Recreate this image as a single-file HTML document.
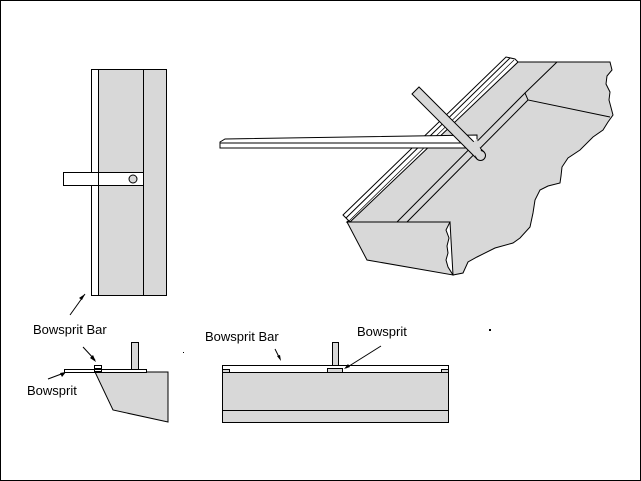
<!DOCTYPE html>
<html><head><style>
body{margin:0;background:#fff}
svg{display:block}
text{font-family:"Liberation Sans",sans-serif;font-size:13px;fill:#000}
</style></head><body>
<svg width="641" height="481" viewBox="0 0 641 481">
<rect x="0.5" y="0.5" width="640" height="480" fill="#fff" stroke="#000"/>
<rect x="91.5" y="69.5" width="75" height="226" fill="#d8d8d8" stroke="#000"/>
<rect x="91.5" y="69.5" width="7" height="226" fill="#fff" stroke="#000"/>
<line x1="143.5" y1="69" x2="143.5" y2="295" stroke="#000"/>
<rect x="63.5" y="172.5" width="80" height="13" fill="#fff" stroke="#000"/>
<line x1="98.5" y1="172" x2="98.5" y2="186" stroke="#000"/>
<circle cx="133" cy="179" r="4" fill="#d8d8d8" stroke="#000"/>
<polygon points="518,62 610,62 612,70 607,76 606,84 610,92 609,100 613,115 608,122 603,130 593,137 580,150 568,158 562,167 561,176 560,183 548,186 540,190 535,200 533,213 530,227 520,238 513,243 495,248 477,257 468,262 463,273 453,275 450,222 347,222" fill="#d8d8d8" stroke="#000"/>
<polygon points="347,222 450,222 446,230 449,238 447,246 448,253 446,260 448,267 453,275 367,260" fill="#d8d8d8" stroke="#000"/>
<polyline points="557,62 525,93 528,100 610,117" fill="none" stroke="#000"/>
<line x1="397" y1="222" x2="525" y2="93" stroke="#000"/>
<line x1="407" y1="222" x2="528" y2="100" stroke="#000"/>
<polygon points="343,215 506,57 515,59 518,62 350,222" fill="#fff" stroke="#000"/>
<line x1="346" y1="218" x2="510" y2="58" stroke="#000"/>
<line x1="349" y1="221" x2="514" y2="60" stroke="#000" stroke-width="0.7"/>
<polygon points="220,142 225,139 477,135 477,140 467,148 220,148" fill="#fff" stroke="#000"/>
<line x1="220" y1="143" x2="470" y2="143" stroke="#000"/>
<polygon points="412,94 419,87 484,152 477,159" fill="#d8d8d8" stroke="#000"/>
<circle cx="480.5" cy="155.5" r="5" fill="#d8d8d8" stroke="#000"/>
<polygon points="470,145 477,139 481,151 476,157" fill="#d8d8d8"/>
<polygon points="95,372 168,372 168,422 113,410" fill="#d8d8d8" stroke="#000"/>
<rect x="131.5" y="342.5" width="7" height="27" fill="#d8d8d8" stroke="#000"/>
<rect x="64.5" y="369.5" width="82" height="3" fill="#fff" stroke="#000"/>
<rect x="94.5" y="365.5" width="7" height="6" fill="#fff" stroke="#000"/>
<line x1="94" y1="369" x2="102" y2="369" stroke="#000" stroke-width="2"/>
<rect x="222.5" y="365.5" width="226" height="57" fill="#d8d8d8" stroke="#000"/>
<rect x="222.5" y="365.5" width="226" height="7" fill="#fff" stroke="#000"/>
<line x1="222" y1="410.5" x2="448" y2="410.5" stroke="#000"/>
<rect x="332.5" y="342.5" width="6" height="23" fill="#d8d8d8" stroke="#000"/>
<rect x="327.5" y="368.5" width="15" height="4" fill="#d8d8d8" stroke="#000"/>
<rect x="222.5" y="369.5" width="7" height="3" fill="#d8d8d8" stroke="#000"/>
<rect x="441.5" y="369.5" width="7" height="3" fill="#d8d8d8" stroke="#000"/>
<text x="33" y="334">Bowsprit Bar</text>
<text x="27" y="395">Bowsprit</text>
<text x="205" y="341">Bowsprit Bar</text>
<text x="357" y="336">Bowsprit</text>
<g stroke="#000" fill="none">
<line x1="70" y1="315" x2="85" y2="294"/>
<line x1="83" y1="347" x2="95" y2="360"/>
<line x1="48" y1="379" x2="64" y2="373"/>
<line x1="275" y1="349" x2="280" y2="359"/>
<line x1="381" y1="346" x2="346" y2="368"/>
</g>
<g fill="#000">
<polygon points="85,294 79,298 82,300"/>
<polygon points="96,362 90,358 93,355"/>
<polygon points="66,372 60,373 62,377"/>
<polygon points="281,361 277,356 280,355"/>
<polygon points="344,369 348,364 350,367"/>
<rect x="183" y="352" width="1" height="1"/>
<rect x="489" y="329" width="2" height="2"/>
</g>
</svg>
</body></html>
